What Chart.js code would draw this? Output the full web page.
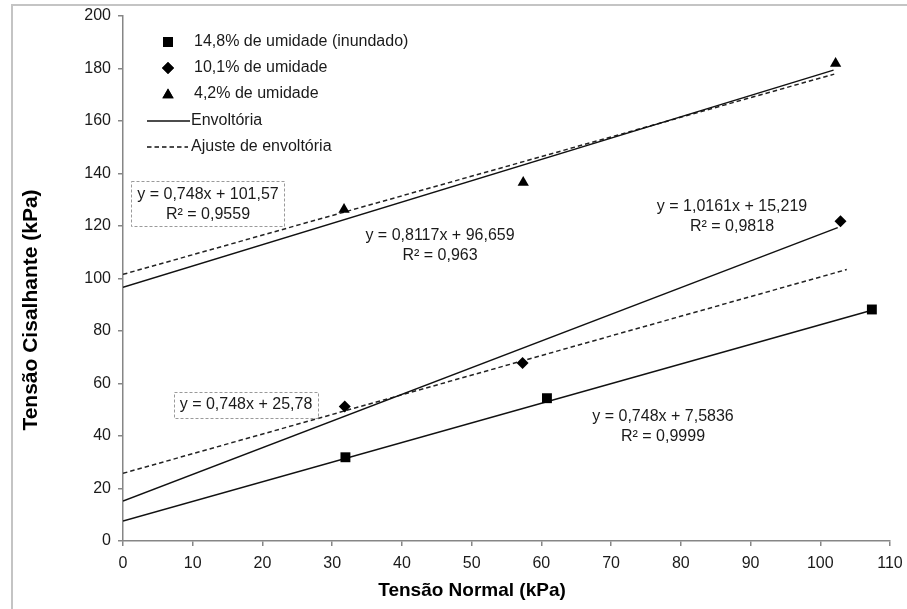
<!DOCTYPE html>
<html>
<head>
<meta charset="utf-8">
<script src="https://cdn.jsdelivr.net/npm/chart.js@4/dist/chart.umd.min.js"></script>
<style>
  html, body { margin: 0; padding: 0; background: #fff; }
  canvas { display: block; }
</style>
</head>
<body>
<canvas id="grafico" width="907" height="609"></canvas>
<script>
// Ensaios de cisalhamento: pontos medidos por teor de umidade
const umidades = ['14,8% de umidade (inundado)', '10,1% de umidade', '4,2% de umidade'];
const normalInundado = [31.9, 60.8, 107.4];
const cisalhInundado = [31.9, 54.4, 88.2];
const normal101 = [31.8, 57.3, 102.9];
const cisalh101 = [51.2, 67.8, 121.8];
const normal42 = [31.7, 57.4, 102.2];
const cisalh42 = [126.3, 136.6, 181.9];

// Envoltórias (linha cheia) e ajustes com inclinação fixa (tracejado)
const envInclinacao = [0.748, 1.0161, 0.8117];
const envIntercepto = [7.5836, 15.219, 96.659];
const envFimX = [107.4, 102.5, 101.9];
const envRotulos = [
  ['y = 0,748x + 7,5836', 'R² = 0,9999'],
  ['y = 1,0161x + 15,219', 'R² = 0,9818'],
  ['y = 0,8117x + 96,659', 'R² = 0,963']
];
const ajusteInclinacao = [0.748, 0.748];
const ajusteIntercepto = [25.78, 101.57];
const ajusteFimX = [103.8, 102];
const ajusteRotulos = [
  ['y = 0,748x + 25,78'],
  ['y = 0,748x + 101,57', 'R² = 0,9559']
];

const xTicks = [0, 10, 20, 30, 40, 50, 60, 70, 80, 90, 100, 110];
const yTicks = [0, 20, 40, 60, 80, 100, 120, 140, 160, 180, 200];

const FONTE = '"Liberation Sans", Arial, sans-serif';
const COR_EIXO = '#868686';
const COR_TEXTO = '#1a1a1a';

function reta(a, b, xFim) {
  return [{ x: 0, y: b }, { x: xFim, y: a * xFim + b }];
}

function pontos(xs, ys) {
  return xs.map((x, i) => ({ x, y: ys[i] }));
}

const datasets = [];
envInclinacao.forEach((a, i) => {
  datasets.push({
    data: reta(a, envIntercepto[i], envFimX[i]),
    showLine: true, borderColor: '#111', borderWidth: 1.5,
    pointRadius: 0, order: 2
  });
});
ajusteInclinacao.forEach((a, i) => {
  datasets.push({
    data: reta(a, ajusteIntercepto[i], ajusteFimX[i]),
    showLine: true, borderColor: '#222', borderWidth: 1.5, borderDash: [4.5, 3],
    pointRadius: 0, order: 2
  });
});
[
  [normalInundado, cisalhInundado, 'rect', 7],
  [normal101, cisalh101, 'rectRot', 6],
  [normal42, cisalh42, 'triangle', 6.5]
].forEach(([xs, ys, estilo, raio], i) => {
  datasets.push({
    label: umidades[i],
    data: pontos(xs, ys),
    pointStyle: estilo, pointRadius: raio,
    backgroundColor: '#000', borderColor: '#000', borderWidth: 0,
    showLine: false, order: 1
  });
});

// Legenda, equações, títulos dos eixos e moldura
const decoracao = {
  id: 'decoracao',
  afterDraw(chart) {
    const ctx = chart.ctx;
    ctx.save();

    ctx.strokeStyle = '#c4c4c4';
    ctx.lineWidth = 2;
    ctx.beginPath();
    ctx.moveTo(12, 609);
    ctx.lineTo(12, 5);
    ctx.lineTo(907, 5);
    ctx.stroke();

    // legenda
    ctx.font = '16px ' + FONTE;
    ctx.fillStyle = COR_TEXTO;
    ctx.textBaseline = 'middle';
    ctx.textAlign = 'left';
    const estilos = ['rect', 'rectRot', 'triangle'];
    const raios = [7, 6, 6.5];
    const ly = [42, 68, 94];
    estilos.forEach((e, i) => {
      ctx.fillStyle = '#000';
      Chart.helpers.drawPoint(ctx, { pointStyle: e, radius: raios[i], borderWidth: 0 }, 168, ly[i] + (e === 'triangle' ? 1 : 0));
      ctx.fill();
      ctx.fillStyle = COR_TEXTO;
      ctx.fillText(umidades[i], 194, ly[i]);
    });
    ctx.strokeStyle = '#111';
    ctx.lineWidth = 1.5;
    ctx.beginPath();
    ctx.moveTo(147, 121);
    ctx.lineTo(190, 121);
    ctx.stroke();
    ctx.fillText('Envoltória', 191, 121);
    ctx.setLineDash([4.5, 3]);
    ctx.beginPath();
    ctx.moveTo(147, 147);
    ctx.lineTo(188, 147);
    ctx.stroke();
    ctx.setLineDash([]);
    ctx.fillText('Ajuste de envoltória', 191, 147);

    // rótulos das equações
    ctx.textAlign = 'center';
    const linhas = (txt, cx, cy) => txt.forEach((t, k) => ctx.fillText(t, cx, cy + k * 20));
    linhas(envRotulos[0], 663, 417);
    linhas(envRotulos[1], 732, 207);
    linhas(envRotulos[2], 440, 236);
    linhas(ajusteRotulos[0], 246, 405);
    linhas(ajusteRotulos[1], 208, 195);

    ctx.strokeStyle = '#9a9a9a';
    ctx.lineWidth = 1;
    ctx.setLineDash([3, 2]);
    ctx.strokeRect(174.5, 392.5, 144, 26);
    ctx.strokeRect(131.5, 181.5, 153, 45);
    ctx.setLineDash([]);

    // títulos dos eixos
    ctx.fillStyle = '#000';
    ctx.font = 'bold 19px ' + FONTE;
    ctx.fillText('Tensão Normal (kPa)', 472, 591);
    ctx.translate(31, 310);
    ctx.rotate(-Math.PI / 2);
    ctx.font = 'bold 21px ' + FONTE;
    ctx.fillText('Tensão Cisalhante (kPa)', 0, 0);

    ctx.restore();
  }
};

const eixo = (ticks, padding) => ({
  type: 'linear',
  min: ticks[0],
  max: ticks[ticks.length - 1],
  afterBuildTicks: (s) => { s.ticks = ticks.map(v => ({ value: v })); },
  ticks: { color: COR_TEXTO, font: { family: FONTE, size: 16 }, padding },
  grid: { drawOnChartArea: false, tickLength: 5, color: COR_EIXO, lineWidth: 1.5 },
  border: { color: COR_EIXO, width: 1.5 }
});

const escalaX = eixo(xTicks, 8);
escalaX.afterFit = (s) => {
  s.height = 68;
  s.paddingLeft = 0;
  s.paddingRight = 0;
};
const escalaY = eixo(yTicks, 7);
escalaY.afterFit = (s) => {
  s.width = 123;
  s.paddingTop = 0;
  s.paddingBottom = 0;
};

new Chart(document.getElementById('grafico'), {
  type: 'scatter',
  data: { datasets },
  plugins: [decoracao],
  options: {
    responsive: false,
    animation: false,
    layout: { padding: { top: 16, right: 17, left: 0, bottom: 0 } },
    plugins: { legend: { display: false }, tooltip: { enabled: false } },
    scales: { x: escalaX, y: escalaY }
  }
});
</script>
</body>
</html>
